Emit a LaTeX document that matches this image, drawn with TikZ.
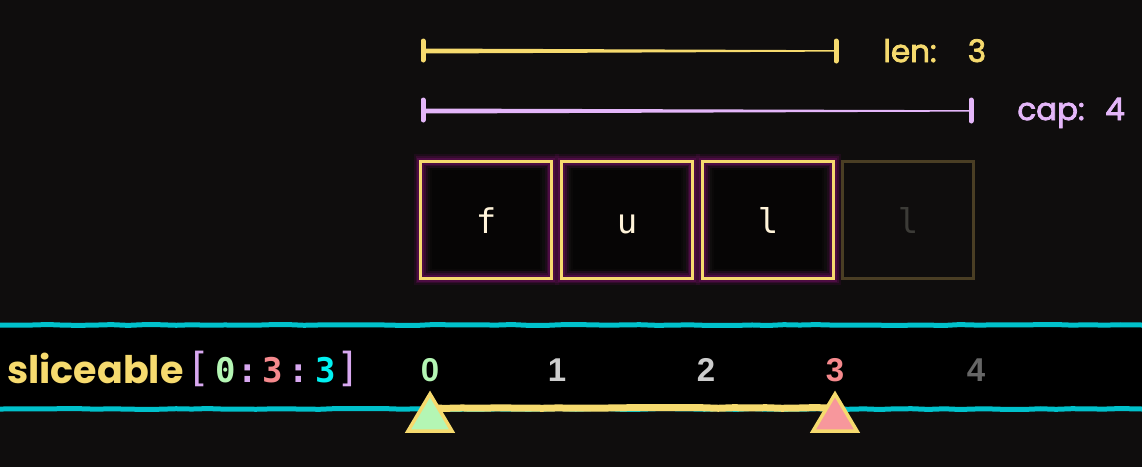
\documentclass[tikz,border=0pt]{standalone}
\usepackage{fontspec}
\setmainfont{Poppins}
\newfontfamily\medf[FakeBold=2.5]{Poppins}
\newfontfamily\monof{DejaVu Sans Mono}
\newfontfamily\numf{Liberation Sans}
\usetikzlibrary{decorations.pathmorphing}
\definecolor{bg}{HTML}{0F0D0D}
\definecolor{yel}{HTML}{F6DA6E}
\definecolor{pur}{HTML}{E4B6F9}
\definecolor{brk}{HTML}{D8A8F0}
\definecolor{cyn}{HTML}{00C1CB}
\definecolor{cyb}{HTML}{00F2F2}
\definecolor{grn}{HTML}{B4F6B4}
\definecolor{sal}{HTML}{F5898D}
\definecolor{pnk}{HTML}{F7979C}
\definecolor{lgr}{HTML}{CCCCCC}
\definecolor{dgr}{HTML}{666666}
\definecolor{core}{HTML}{060505}
\definecolor{glowc}{HTML}{5E0C52}
\definecolor{dimb}{HTML}{4A3E24}
\definecolor{letc}{HTML}{FFF4DA}
\definecolor{dlet}{HTML}{3C3B37}
\begin{document}
\begin{tikzpicture}[x=1pt,y=-1pt,
  rough/.style={decorate,decoration={random steps,segment length=16pt,amplitude=0.5pt}},
  cell/.style={minimum width=131pt,minimum height=117pt,inner sep=0pt,
    text height=27pt,text depth=0pt,
    preaction={draw=glowc,line width=14pt,opacity=0.2},
    preaction={draw=glowc,line width=10pt,opacity=0.35},
    preaction={draw=glowc,line width=7pt,opacity=0.6},
    draw=yel,line width=3pt,text=letc,
    font=\monof\fontsize{34}{34}\selectfont},
  dimcell/.style={minimum width=131pt,minimum height=117pt,inner sep=0pt,
    text height=27pt,text depth=0pt,
    draw=dimb,line width=3pt,text=dlet,
    font=\monof\fontsize{34}{34}\selectfont},
  corebox/.style={fill=core,draw=core,draw opacity=0.5,line width=4pt},
  lbl/.style={inner sep=0pt,anchor=base,font=\medf\fontsize{31}{31}\selectfont},
  idx/.style={inner sep=0pt,anchor=base,font=\numf\bfseries\fontsize{33}{33}\selectfont},
  sl/.style={inner sep=0pt,anchor=base,font=\monof\bfseries\fontsize{34}{34}\selectfont},
  br/.style={inner sep=0pt,anchor=base,font=\monof\fontsize{40}{40}\selectfont},
  tick/.style={line width=5pt,line cap=round},
  ptr/.style={draw=yel,line width=3.5pt,line join=miter}
]
\fill[bg] (0,0) rectangle (1142,467);
\useasboundingbox (0,0) rectangle (1142,467);

% len bar
\coordinate (l0) at (423,51);
\coordinate (l1) at (836,51);
\fill[yel] (423,48.5) -- (836,50.2) -- (836,51.6) -- (423,53.5) -- cycle;
\draw[yel,tick] (423,41) -- (423,60);
\draw[yel,tick] (836,41) -- (836,61);
\node[lbl,text=yel] (len) at (910,62) {len:};
\node[lbl,text=yel] (lenv) at (977,62) {3};

% cap bar
\fill[pur] (423,108.5) -- (971,110.2) -- (971,111.6) -- (423,113.5) -- cycle;
\draw[pur,tick] (423,100) -- (423,120);
\draw[pur,tick] (971,100) -- (971,121);
\node[lbl,text=pur] (cap) at (1051,120) {cap:};
\node[lbl,text=pur] (capv) at (1115,120) {4};

% cells
\foreach \cx in {486,627,768}{
  \fill[corebox] (\cx-54,170) rectangle (\cx+54,269);
}
\node[cell] (c0) at (486,219.5) {f};
\node[cell] (c1) at (627,219.5) {u};
\node[cell] (c2) at (768,219.5) {l};
\node[dimcell] (c3) at (908,219.5) {l};

% band
\fill[black] (0,327) rectangle (1142,407);
\draw[cyn,line width=5pt,rough] (0,325) -- (1142,325);
\draw[cyn,line width=5pt,rough] (0,409) -- (1142,409);

\node[inner sep=0pt,anchor=base west,text=yel,font=\bfseries\fontsize{38}{38}\selectfont] (name) at (7,383) {sliceable};
\node[br,text=brk] (b0) at (199,381) {[};
\node[sl,text=grn] (s0) at (226,382) {0};
\node[sl,text=brk] (k0) at (248,382) {:};
\node[sl,text=sal] (s1) at (273,382) {3};
\node[sl,text=brk] (k1) at (299,382) {:};
\node[sl,text=cyb] (s2) at (326,382) {3};
\node[br,text=brk] (b1) at (349,381) {]};

\node[idx,text=grn] (i0) at (430,381) {0};
\node[idx,text=lgr] (i1) at (557,381) {1};
\node[idx,text=lgr] (i2) at (706,381) {2};
\node[idx,text=sal] (i3) at (835,381) {3};
\node[idx,text=dgr] (i4) at (976,381) {4};

% range
\coordinate (t0) at (430,408);
\coordinate (t3) at (835,408);
\draw[yel,line width=7pt,rough] (t0) -- (t3);
\path[ptr,fill=grn] (430,394) -- (452,431) -- (408,431) -- cycle;
\path[ptr,fill=pnk] (835,394) -- (857,431) -- (813,431) -- cycle;
\end{tikzpicture}
\end{document}
